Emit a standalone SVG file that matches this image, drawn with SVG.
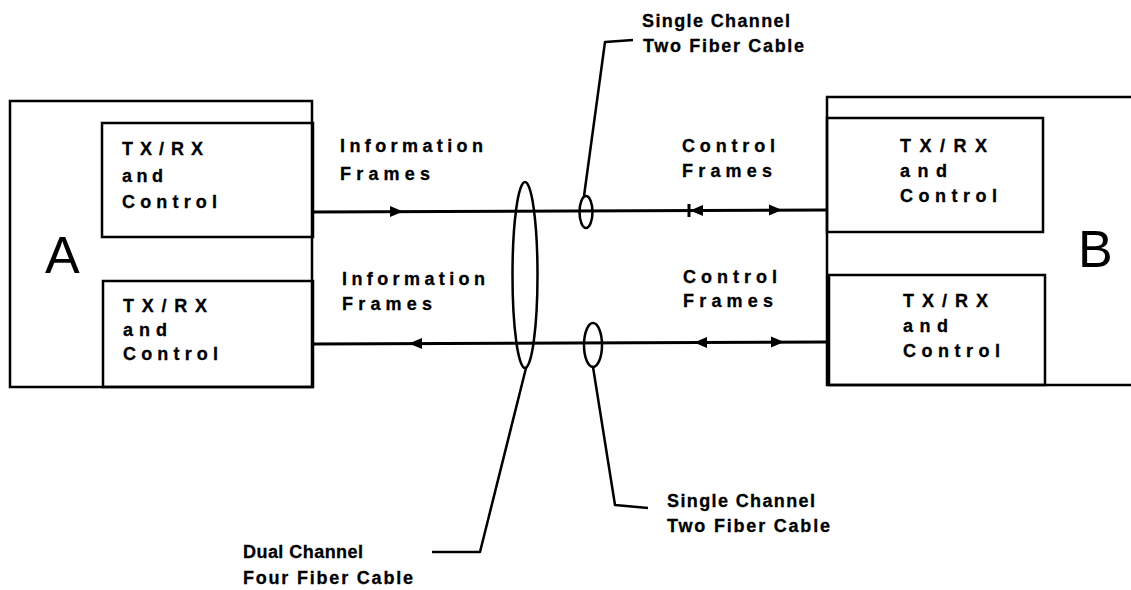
<svg xmlns="http://www.w3.org/2000/svg" width="1131" height="590" viewBox="0 0 1131 590">
<style>
.box{fill:none;stroke:#000;stroke-width:2.5}
.ln{fill:none;stroke:#000;stroke-width:3}
.ld{fill:none;stroke:#000;stroke-width:2.5;stroke-linejoin:round}
.ah{fill:#000}
text{font-family:"Liberation Sans",Arial,sans-serif;font-weight:bold;font-size:18px;fill:#000;stroke:#000;stroke-width:0.3}
.big{font-weight:normal;font-size:52px;stroke:none}
</style>
<rect width="1131" height="590" fill="#fff"/>
<g id="nodeA">
<path class="box" d="M10,101 H312 V387 H10 Z"/>
<text class="big" x="45" y="273">A</text>
</g>
<g id="nodeA1">
<rect class="box" x="102" y="123" width="211" height="114"/>
<text x="122" y="155" textLength="81" lengthAdjust="spacing">TX/RX</text>
<text x="122" y="182" textLength="41" lengthAdjust="spacing">and</text>
<text x="122" y="208" textLength="95" lengthAdjust="spacing">Control</text>
</g>
<g id="nodeA2">
<rect class="box" x="103" y="281" width="210" height="106"/>
<text x="123" y="312" textLength="84" lengthAdjust="spacing">TX/RX</text>
<text x="123" y="336" textLength="44" lengthAdjust="spacing">and</text>
<text x="123" y="360" textLength="95" lengthAdjust="spacing">Control</text>
</g>
<g id="nodeB">
<path class="box" d="M1131,97 H827 V385 H1131"/>
<text class="big" x="1078" y="267">B</text>
</g>
<g id="nodeB1">
<rect class="box" x="827" y="118" width="216" height="114"/>
<text x="900" y="152" textLength="87" lengthAdjust="spacing">TX/RX</text>
<text x="900" y="177" textLength="47" lengthAdjust="spacing">and</text>
<text x="900" y="202" textLength="97" lengthAdjust="spacing">Control</text>
</g>
<g id="nodeB2">
<rect class="box" x="829" y="275" width="216" height="110"/>
<text x="903" y="307" textLength="85" lengthAdjust="spacing">TX/RX</text>
<text x="903" y="332" textLength="45" lengthAdjust="spacing">and</text>
<text x="903" y="357" textLength="97" lengthAdjust="spacing">Control</text>
</g>
<g id="connectors">
<path class="ln" d="M313,212 L827,210"/>
<path class="ln" d="M313,344 L829,342"/>
<polygon class="ah" points="403,211.5 390,206 390,217"/>
<polygon class="ah" points="690,210.5 703,205 703,216"/>
<path class="ln" d="M689,204 V217" stroke-width="1.5"/>
<polygon class="ah" points="782,210 769,204.5 769,215.5"/>
<polygon class="ah" points="409,343.5 422,338 422,349"/>
<polygon class="ah" points="694,342.5 707,337 707,348"/>
<polygon class="ah" points="784,342 771,336.5 771,347.5"/>
</g>
<g id="cables">
<ellipse class="ld" cx="525" cy="275" rx="12.5" ry="93"/>
<path class="ld" d="M526,368 L480,552 L432,552"/>
<ellipse class="ld" cx="586" cy="212" rx="6.5" ry="16"/>
<path class="ld" d="M584,196 L605,42 L633,40"/>
<ellipse class="ld" cx="593" cy="345" rx="9" ry="22"/>
<path class="ld" d="M593,367 L615,505 L648,508"/>
</g>
<g id="labels">
<text x="340" y="152" textLength="143" lengthAdjust="spacing">Information</text>
<text x="340" y="180" textLength="90" lengthAdjust="spacing">Frames</text>
<text x="342" y="285" textLength="143" lengthAdjust="spacing">Information</text>
<text x="342" y="310" textLength="90" lengthAdjust="spacing">Frames</text>
<text x="682" y="152" textLength="93" lengthAdjust="spacing">Control</text>
<text x="682" y="177" textLength="90" lengthAdjust="spacing">Frames</text>
<text x="683" y="283" textLength="94" lengthAdjust="spacing">Control</text>
<text x="683" y="307" textLength="90" lengthAdjust="spacing">Frames</text>
<text x="642" y="27" textLength="148" lengthAdjust="spacing">Single Channel</text>
<text x="643" y="52" textLength="161" lengthAdjust="spacing">Two Fiber Cable</text>
<text x="667" y="507" textLength="148" lengthAdjust="spacing">Single Channel</text>
<text x="667" y="532" textLength="163" lengthAdjust="spacing">Two Fiber Cable</text>
<text x="243" y="558" textLength="120" lengthAdjust="spacing">Dual Channel</text>
<text x="243" y="584" textLength="170" lengthAdjust="spacing">Four Fiber Cable</text>
</g>
</svg>
